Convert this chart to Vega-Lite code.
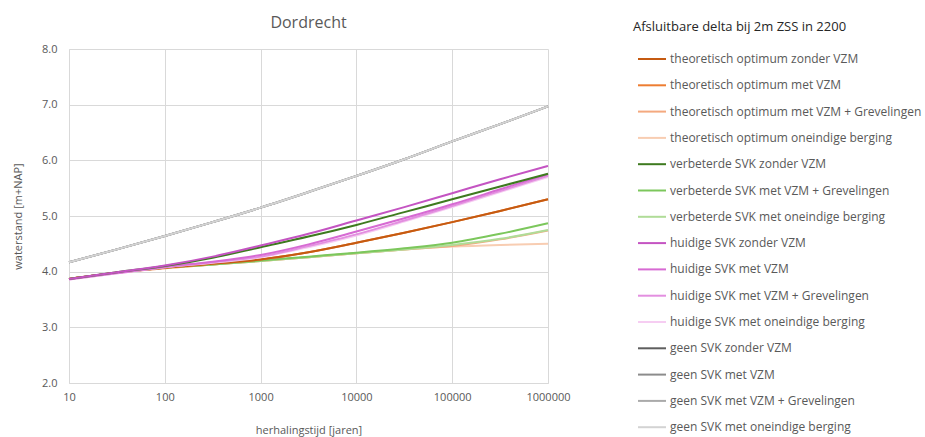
{
  "$schema": "https://vega.github.io/schema/vega-lite/v6.json",
  "autosize": {"type": "none"},
  "width": 479,
  "height": 334,
  "padding": {"left": 69, "top": 49, "right": 377, "bottom": 54},
  "background": "white",
  "config": {
    "font": "Open Sans",
    "view": {"stroke": null},
    "axis": {"labelColor": "#595959", "titleColor": "#595959", "gridColor": "#d9d9d9", "domainColor": "#d9d9d9", "tickColor": "#d9d9d9", "labelFontSize": 11, "titleFontSize": 11, "titleFontWeight": "normal"}
  },
  "title": {"text": "Dordrecht", "fontSize": 16, "fontWeight": "normal", "color": "#595959", "offset": 16, "dy": 26, "anchor": "middle"},
  "data": {"values": [
    {"s":"geen SVK zonder VZM","T":10,"v":4.17},{"s":"geen SVK zonder VZM","T":31.6,"v":4.40},{"s":"geen SVK zonder VZM","T":100,"v":4.64},{"s":"geen SVK zonder VZM","T":316,"v":4.89},{"s":"geen SVK zonder VZM","T":1000,"v":5.15},{"s":"geen SVK zonder VZM","T":3162,"v":5.43},{"s":"geen SVK zonder VZM","T":10000,"v":5.72},{"s":"geen SVK zonder VZM","T":31623,"v":6.02},{"s":"geen SVK zonder VZM","T":100000,"v":6.34},{"s":"geen SVK zonder VZM","T":316228,"v":6.65},{"s":"geen SVK zonder VZM","T":1000000,"v":6.97},
    {"s":"geen SVK met VZM","T":10,"v":4.17},{"s":"geen SVK met VZM","T":31.6,"v":4.40},{"s":"geen SVK met VZM","T":100,"v":4.64},{"s":"geen SVK met VZM","T":316,"v":4.89},{"s":"geen SVK met VZM","T":1000,"v":5.15},{"s":"geen SVK met VZM","T":3162,"v":5.43},{"s":"geen SVK met VZM","T":10000,"v":5.72},{"s":"geen SVK met VZM","T":31623,"v":6.02},{"s":"geen SVK met VZM","T":100000,"v":6.34},{"s":"geen SVK met VZM","T":316228,"v":6.65},{"s":"geen SVK met VZM","T":1000000,"v":6.97},
    {"s":"geen SVK met VZM + Grevelingen","T":10,"v":4.17},{"s":"geen SVK met VZM + Grevelingen","T":31.6,"v":4.40},{"s":"geen SVK met VZM + Grevelingen","T":100,"v":4.64},{"s":"geen SVK met VZM + Grevelingen","T":316,"v":4.89},{"s":"geen SVK met VZM + Grevelingen","T":1000,"v":5.15},{"s":"geen SVK met VZM + Grevelingen","T":3162,"v":5.43},{"s":"geen SVK met VZM + Grevelingen","T":10000,"v":5.72},{"s":"geen SVK met VZM + Grevelingen","T":31623,"v":6.02},{"s":"geen SVK met VZM + Grevelingen","T":100000,"v":6.34},{"s":"geen SVK met VZM + Grevelingen","T":316228,"v":6.65},{"s":"geen SVK met VZM + Grevelingen","T":1000000,"v":6.97},
    {"s":"geen SVK met oneindige berging","T":10,"v":4.17},{"s":"geen SVK met oneindige berging","T":31.6,"v":4.40},{"s":"geen SVK met oneindige berging","T":100,"v":4.64},{"s":"geen SVK met oneindige berging","T":316,"v":4.89},{"s":"geen SVK met oneindige berging","T":1000,"v":5.15},{"s":"geen SVK met oneindige berging","T":3162,"v":5.43},{"s":"geen SVK met oneindige berging","T":10000,"v":5.72},{"s":"geen SVK met oneindige berging","T":31623,"v":6.02},{"s":"geen SVK met oneindige berging","T":100000,"v":6.34},{"s":"geen SVK met oneindige berging","T":316228,"v":6.65},{"s":"geen SVK met oneindige berging","T":1000000,"v":6.97},

    {"s":"theoretisch optimum oneindige berging ","T":10,"v":3.87},{"s":"theoretisch optimum oneindige berging ","T":31.6,"v":3.98},{"s":"theoretisch optimum oneindige berging ","T":100,"v":4.06},{"s":"theoretisch optimum oneindige berging ","T":316,"v":4.13},{"s":"theoretisch optimum oneindige berging ","T":1000,"v":4.19},{"s":"theoretisch optimum oneindige berging ","T":3162,"v":4.26},{"s":"theoretisch optimum oneindige berging ","T":10000,"v":4.33},{"s":"theoretisch optimum oneindige berging ","T":31623,"v":4.40},{"s":"theoretisch optimum oneindige berging ","T":100000,"v":4.45},{"s":"theoretisch optimum oneindige berging ","T":316228,"v":4.48},{"s":"theoretisch optimum oneindige berging ","T":1000000,"v":4.50},

    {"s":"theoretisch optimum met VZM + Grevelingen","T":10,"v":3.87},{"s":"theoretisch optimum met VZM + Grevelingen","T":31.6,"v":3.98},{"s":"theoretisch optimum met VZM + Grevelingen","T":100,"v":4.06},{"s":"theoretisch optimum met VZM + Grevelingen","T":316,"v":4.13},{"s":"theoretisch optimum met VZM + Grevelingen","T":1000,"v":4.19},{"s":"theoretisch optimum met VZM + Grevelingen","T":3162,"v":4.26},{"s":"theoretisch optimum met VZM + Grevelingen","T":10000,"v":4.33},{"s":"theoretisch optimum met VZM + Grevelingen","T":31623,"v":4.40},{"s":"theoretisch optimum met VZM + Grevelingen","T":100000,"v":4.46},{"s":"theoretisch optimum met VZM + Grevelingen","T":316228,"v":4.58},{"s":"theoretisch optimum met VZM + Grevelingen","T":1000000,"v":4.74},

    {"s":"verbeterde SVK met oneindige berging","T":10,"v":3.87},{"s":"verbeterde SVK met oneindige berging","T":31.6,"v":3.98},{"s":"verbeterde SVK met oneindige berging","T":100,"v":4.07},{"s":"verbeterde SVK met oneindige berging","T":316,"v":4.13},{"s":"verbeterde SVK met oneindige berging","T":1000,"v":4.19},{"s":"verbeterde SVK met oneindige berging","T":3162,"v":4.26},{"s":"verbeterde SVK met oneindige berging","T":10000,"v":4.33},{"s":"verbeterde SVK met oneindige berging","T":31623,"v":4.40},{"s":"verbeterde SVK met oneindige berging","T":100000,"v":4.48},{"s":"verbeterde SVK met oneindige berging","T":316228,"v":4.59},{"s":"verbeterde SVK met oneindige berging","T":1000000,"v":4.75},

    {"s":"verbeterde SVK met VZM + Grevelingen","T":10,"v":3.87},{"s":"verbeterde SVK met VZM + Grevelingen","T":31.6,"v":3.98},{"s":"verbeterde SVK met VZM + Grevelingen","T":100,"v":4.07},{"s":"verbeterde SVK met VZM + Grevelingen","T":316,"v":4.13},{"s":"verbeterde SVK met VZM + Grevelingen","T":1000,"v":4.20},{"s":"verbeterde SVK met VZM + Grevelingen","T":3162,"v":4.27},{"s":"verbeterde SVK met VZM + Grevelingen","T":10000,"v":4.34},{"s":"verbeterde SVK met VZM + Grevelingen","T":31623,"v":4.42},{"s":"verbeterde SVK met VZM + Grevelingen","T":100000,"v":4.52},{"s":"verbeterde SVK met VZM + Grevelingen","T":316228,"v":4.68},{"s":"verbeterde SVK met VZM + Grevelingen","T":1000000,"v":4.87},

    {"s":"theoretisch optimum met VZM","T":10,"v":3.87},{"s":"theoretisch optimum met VZM","T":31.6,"v":3.98},{"s":"theoretisch optimum met VZM","T":100,"v":4.07},{"s":"theoretisch optimum met VZM","T":316,"v":4.14},{"s":"theoretisch optimum met VZM","T":1000,"v":4.22},{"s":"theoretisch optimum met VZM","T":3162,"v":4.35},{"s":"theoretisch optimum met VZM","T":10000,"v":4.52},{"s":"theoretisch optimum met VZM","T":31623,"v":4.70},{"s":"theoretisch optimum met VZM","T":100000,"v":4.89},{"s":"theoretisch optimum met VZM","T":316228,"v":5.09},{"s":"theoretisch optimum met VZM","T":1000000,"v":5.30},

    {"s":"theoretisch optimum zonder VZM","T":10,"v":3.87},{"s":"theoretisch optimum zonder VZM","T":31.6,"v":3.98},{"s":"theoretisch optimum zonder VZM","T":100,"v":4.07},{"s":"theoretisch optimum zonder VZM","T":316,"v":4.14},{"s":"theoretisch optimum zonder VZM","T":1000,"v":4.22},{"s":"theoretisch optimum zonder VZM","T":3162,"v":4.35},{"s":"theoretisch optimum zonder VZM","T":10000,"v":4.52},{"s":"theoretisch optimum zonder VZM","T":31623,"v":4.70},{"s":"theoretisch optimum zonder VZM","T":100000,"v":4.89},{"s":"theoretisch optimum zonder VZM","T":316228,"v":5.09},{"s":"theoretisch optimum zonder VZM","T":1000000,"v":5.30},

    {"s":"huidige SVK met oneindige berging","T":10,"v":3.86},{"s":"huidige SVK met oneindige berging","T":31.6,"v":3.97},{"s":"huidige SVK met oneindige berging","T":100,"v":4.08},{"s":"huidige SVK met oneindige berging","T":316,"v":4.16},{"s":"huidige SVK met oneindige berging","T":1000,"v":4.26},{"s":"huidige SVK met oneindige berging","T":3162,"v":4.44},{"s":"huidige SVK met oneindige berging","T":10000,"v":4.65},{"s":"huidige SVK met oneindige berging","T":31623,"v":4.90},{"s":"huidige SVK met oneindige berging","T":100000,"v":5.16},{"s":"huidige SVK met oneindige berging","T":316228,"v":5.43},{"s":"huidige SVK met oneindige berging","T":1000000,"v":5.70},

    {"s":"huidige SVK met VZM + Grevelingen","T":10,"v":3.86},{"s":"huidige SVK met VZM + Grevelingen","T":31.6,"v":3.97},{"s":"huidige SVK met VZM + Grevelingen","T":100,"v":4.08},{"s":"huidige SVK met VZM + Grevelingen","T":316,"v":4.17},{"s":"huidige SVK met VZM + Grevelingen","T":1000,"v":4.27},{"s":"huidige SVK met VZM + Grevelingen","T":3162,"v":4.46},{"s":"huidige SVK met VZM + Grevelingen","T":10000,"v":4.67},{"s":"huidige SVK met VZM + Grevelingen","T":31623,"v":4.92},{"s":"huidige SVK met VZM + Grevelingen","T":100000,"v":5.18},{"s":"huidige SVK met VZM + Grevelingen","T":316228,"v":5.45},{"s":"huidige SVK met VZM + Grevelingen","T":1000000,"v":5.72},

    {"s":"huidige SVK met VZM","T":10,"v":3.87},{"s":"huidige SVK met VZM","T":31.6,"v":3.98},{"s":"huidige SVK met VZM","T":100,"v":4.09},{"s":"huidige SVK met VZM","T":316,"v":4.18},{"s":"huidige SVK met VZM","T":1000,"v":4.30},{"s":"huidige SVK met VZM","T":3162,"v":4.49},{"s":"huidige SVK met VZM","T":10000,"v":4.72},{"s":"huidige SVK met VZM","T":31623,"v":4.96},{"s":"huidige SVK met VZM","T":100000,"v":5.21},{"s":"huidige SVK met VZM","T":316228,"v":5.48},{"s":"huidige SVK met VZM","T":1000000,"v":5.75},

    {"s":"verbeterde SVK zonder VZM","T":10,"v":3.87},{"s":"verbeterde SVK zonder VZM","T":31.6,"v":3.99},{"s":"verbeterde SVK zonder VZM","T":100,"v":4.10},{"s":"verbeterde SVK zonder VZM","T":316,"v":4.25},{"s":"verbeterde SVK zonder VZM","T":1000,"v":4.44},{"s":"verbeterde SVK zonder VZM","T":3162,"v":4.63},{"s":"verbeterde SVK zonder VZM","T":10000,"v":4.84},{"s":"verbeterde SVK zonder VZM","T":31623,"v":5.07},{"s":"verbeterde SVK zonder VZM","T":100000,"v":5.30},{"s":"verbeterde SVK zonder VZM","T":316228,"v":5.53},{"s":"verbeterde SVK zonder VZM","T":1000000,"v":5.76},

    {"s":"huidige SVK zonder VZM","T":10,"v":3.87},{"s":"huidige SVK zonder VZM","T":31.6,"v":3.99},{"s":"huidige SVK zonder VZM","T":100,"v":4.11},{"s":"huidige SVK zonder VZM","T":316,"v":4.27},{"s":"huidige SVK zonder VZM","T":1000,"v":4.47},{"s":"huidige SVK zonder VZM","T":3162,"v":4.68},{"s":"huidige SVK zonder VZM","T":10000,"v":4.92},{"s":"huidige SVK zonder VZM","T":31623,"v":5.16},{"s":"huidige SVK zonder VZM","T":100000,"v":5.41},{"s":"huidige SVK zonder VZM","T":316228,"v":5.66},{"s":"huidige SVK zonder VZM","T":1000000,"v":5.90}
  ]},
  "mark": {"type": "line", "strokeWidth": 2, "interpolate": "monotone"},
  "encoding": {
    "x": {"field": "T", "type": "quantitative", "scale": {"type": "log", "domain": [10, 1000000], "nice": false}, "axis": {"title": "herhalingstijd [jaren]", "values": [10, 100, 1000, 10000, 100000, 1000000], "format": "d", "grid": true, "ticks": false, "labelFlush": false, "labelPadding": 8, "titlePadding": 22}},
    "y": {"field": "v", "type": "quantitative", "scale": {"domain": [2, 8], "nice": false, "zero": false}, "axis": {"title": "waterstand [m+NAP]", "values": [2, 3, 4, 5, 6, 7, 8], "format": ".1f", "ticks": false, "labelFlush": false, "labelPadding": 12, "titlePadding": 18}},
    "detail": {"field": "s"},
    "color": {"field": "s", "type": "nominal", "sort": null,
      "scale": {
        "domain": ["theoretisch optimum zonder VZM", "theoretisch optimum met VZM", "theoretisch optimum met VZM + Grevelingen", "theoretisch optimum oneindige berging ", "verbeterde SVK zonder VZM", "verbeterde SVK met VZM + Grevelingen", "verbeterde SVK met oneindige berging", "huidige SVK zonder VZM", "huidige SVK met VZM", "huidige SVK met VZM + Grevelingen", "huidige SVK met oneindige berging", "geen SVK zonder VZM", "geen SVK met VZM", "geen SVK met VZM + Grevelingen", "geen SVK met oneindige berging"],
        "range": ["#c55a11", "#ed7d31", "#f4a97f", "#f8cdb2", "#3e7a1f", "#7cc75c", "#b0dc98", "#c454c2", "#d76ad3", "#e38fe0", "#f6cdf2", "#5e5e5e", "#8c8c8c", "#aaaaaa", "#d3d3d3"]
      },
      "legend": {
        "title": "Afsluitbare delta bij 2m ZSS in 2200",
        "orient": "none", "legendX": 564, "legendY": -28,
        "titleFontSize": 13, "titleFontWeight": "normal", "titleColor": "#262626", "titlePadding": 10, "titleLimit": 400,
        "labelFontSize": 12, "labelColor": "#595959", "labelOffset": 3, "labelLimit": 300,
        "symbolType": "stroke", "symbolSize": 784, "symbolStrokeWidth": 2, "symbolOffset": 4,
        "rowPadding": 5.3, "padding": 0
      }
    }
  }
}
